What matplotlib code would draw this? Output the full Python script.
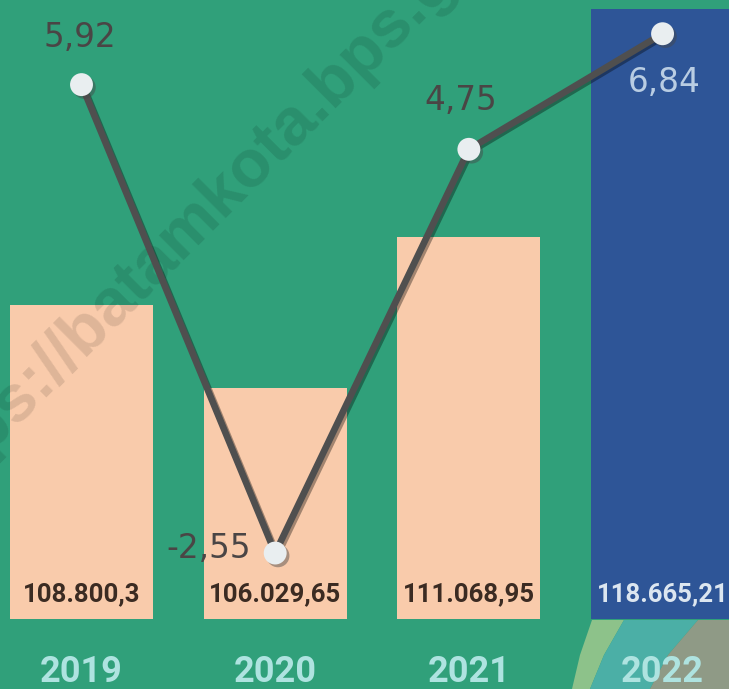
import matplotlib
matplotlib.use("Agg")
import matplotlib.pyplot as plt
import matplotlib.patheffects as pe
from matplotlib.patches import Polygon

# ---- data ----
years = ['2019', '2020', '2021', '2022']
pdrb = [108800.3, 106029.65, 111068.95, 118665.21]
pdrb_labels = ['108.800,3', '106.029,65', '111.068,95', '118.665,21']
growth = [5.92, -2.55, 4.75, 6.84]
growth_labels = ['5,92', '-2,55', '4,75', '6,84']

# ---- style ----
BG = '#30A07A'
PEACH = '#F9CBAB'
BLUE = '#2E5597'
bar_colors = [PEACH, PEACH, PEACH, BLUE]
bar_text_colors = ['#3B2B22', '#3B2B22', '#3B2B22', '#DCE6F0']
pt_text_colors = ['#4A4545', '#4A4545', '#4A4545', '#B9CDE3']
pt_offsets = [(-1, 34), (-48, 3), (-6, 35), (1.5, -35)]

W, H = 729, 689
fig = plt.figure(figsize=(W / 100, H / 100), dpi=100)
fig.patch.set_facecolor(BG)

# decorative swoosh bottom-right
deco = [
    ('#8DC28A', [(572, 689), (580, 655), (592, 620), (624, 620), (604, 655), (590, 689)]),
    ('#4BAFA6', [(590, 689), (604, 655), (624, 620), (698, 620), (668, 655), (650, 689)]),
    ('#8F9A86', [(650, 689), (668, 655), (698, 620), (729, 620), (729, 689)]),
]
for col, pts in deco:
    fig.patches.append(Polygon([(x / W, 1 - y / H) for x, y in pts], closed=True,
                               transform=fig.transFigure, facecolor=col,
                               edgecolor='none', zorder=-1))

ax = fig.add_axes([0, 70 / H, 1, 619 / H])
ax.set_facecolor(BG)
x = list(range(len(years)))
ax.bar(x, pdrb, width=0.738, color=bar_colors, zorder=1)
ax.set_xlim(-0.4208, 3.343)
ax.set_ylim(98325, 118975)
for s in ax.spines.values():
    s.set_visible(False)
ax.set_yticks([])
ax.set_xticks(x)
ax.set_xticklabels(years, fontfamily='Roboto', fontweight='bold', fontsize=26,
                   color='#AEE3E0')
ax.tick_params(axis='x', length=0, pad=25)

for i, (lab, c) in enumerate(zip(pdrb_labels, bar_text_colors)):
    ax.annotate(lab, xy=(i, 0), xycoords=('data', 'axes fraction'),
                xytext=(0, 18), textcoords='offset points', ha='center',
                va='center', fontfamily='Roboto', fontweight='bold',
                fontsize=18.5, color=c, zorder=3)

# watermark
ax.text(222 / W, 1 - 194 / H, 'https://batamkota.bps.go.id', transform=fig.transFigure,
        rotation=45, rotation_mode='anchor', ha='center', va='center',
        fontfamily='Liberation Sans', fontweight='bold', fontsize=48,
        color='black', alpha=0.11, zorder=2, clip_on=False)

ax2 = ax.twinx()
ax2.set_ylim(-3.743, 7.450)
ax2.set_yticks([])
for s in ax2.spines.values():
    s.set_visible(False)
ax2.plot(x, growth, color='#4F4F4F', linewidth=4.8, solid_capstyle='round',
         solid_joinstyle='round',
         path_effects=[pe.SimpleLineShadow(offset=(1.5, -1.5), alpha=0.35),
                       pe.Normal()], zorder=3)
ax2.plot(x, growth, linestyle='none', marker='o', markersize=16.5,
         markerfacecolor='#E9EEF0', markeredgewidth=0,
         path_effects=[pe.SimplePatchShadow(offset=(2, -2), alpha=0.45),
                       pe.Normal()], zorder=4)
for i, (lab, c, off) in enumerate(zip(growth_labels, pt_text_colors, pt_offsets)):
    ax2.annotate(lab, xy=(i, growth[i]), xytext=off, textcoords='offset points',
                 ha='center', va='center', fontfamily='DejaVu Sans',
                 fontweight='normal', fontsize=23.5, color=c, zorder=5)

fig.savefig('out.png', dpi=100, facecolor=BG)
